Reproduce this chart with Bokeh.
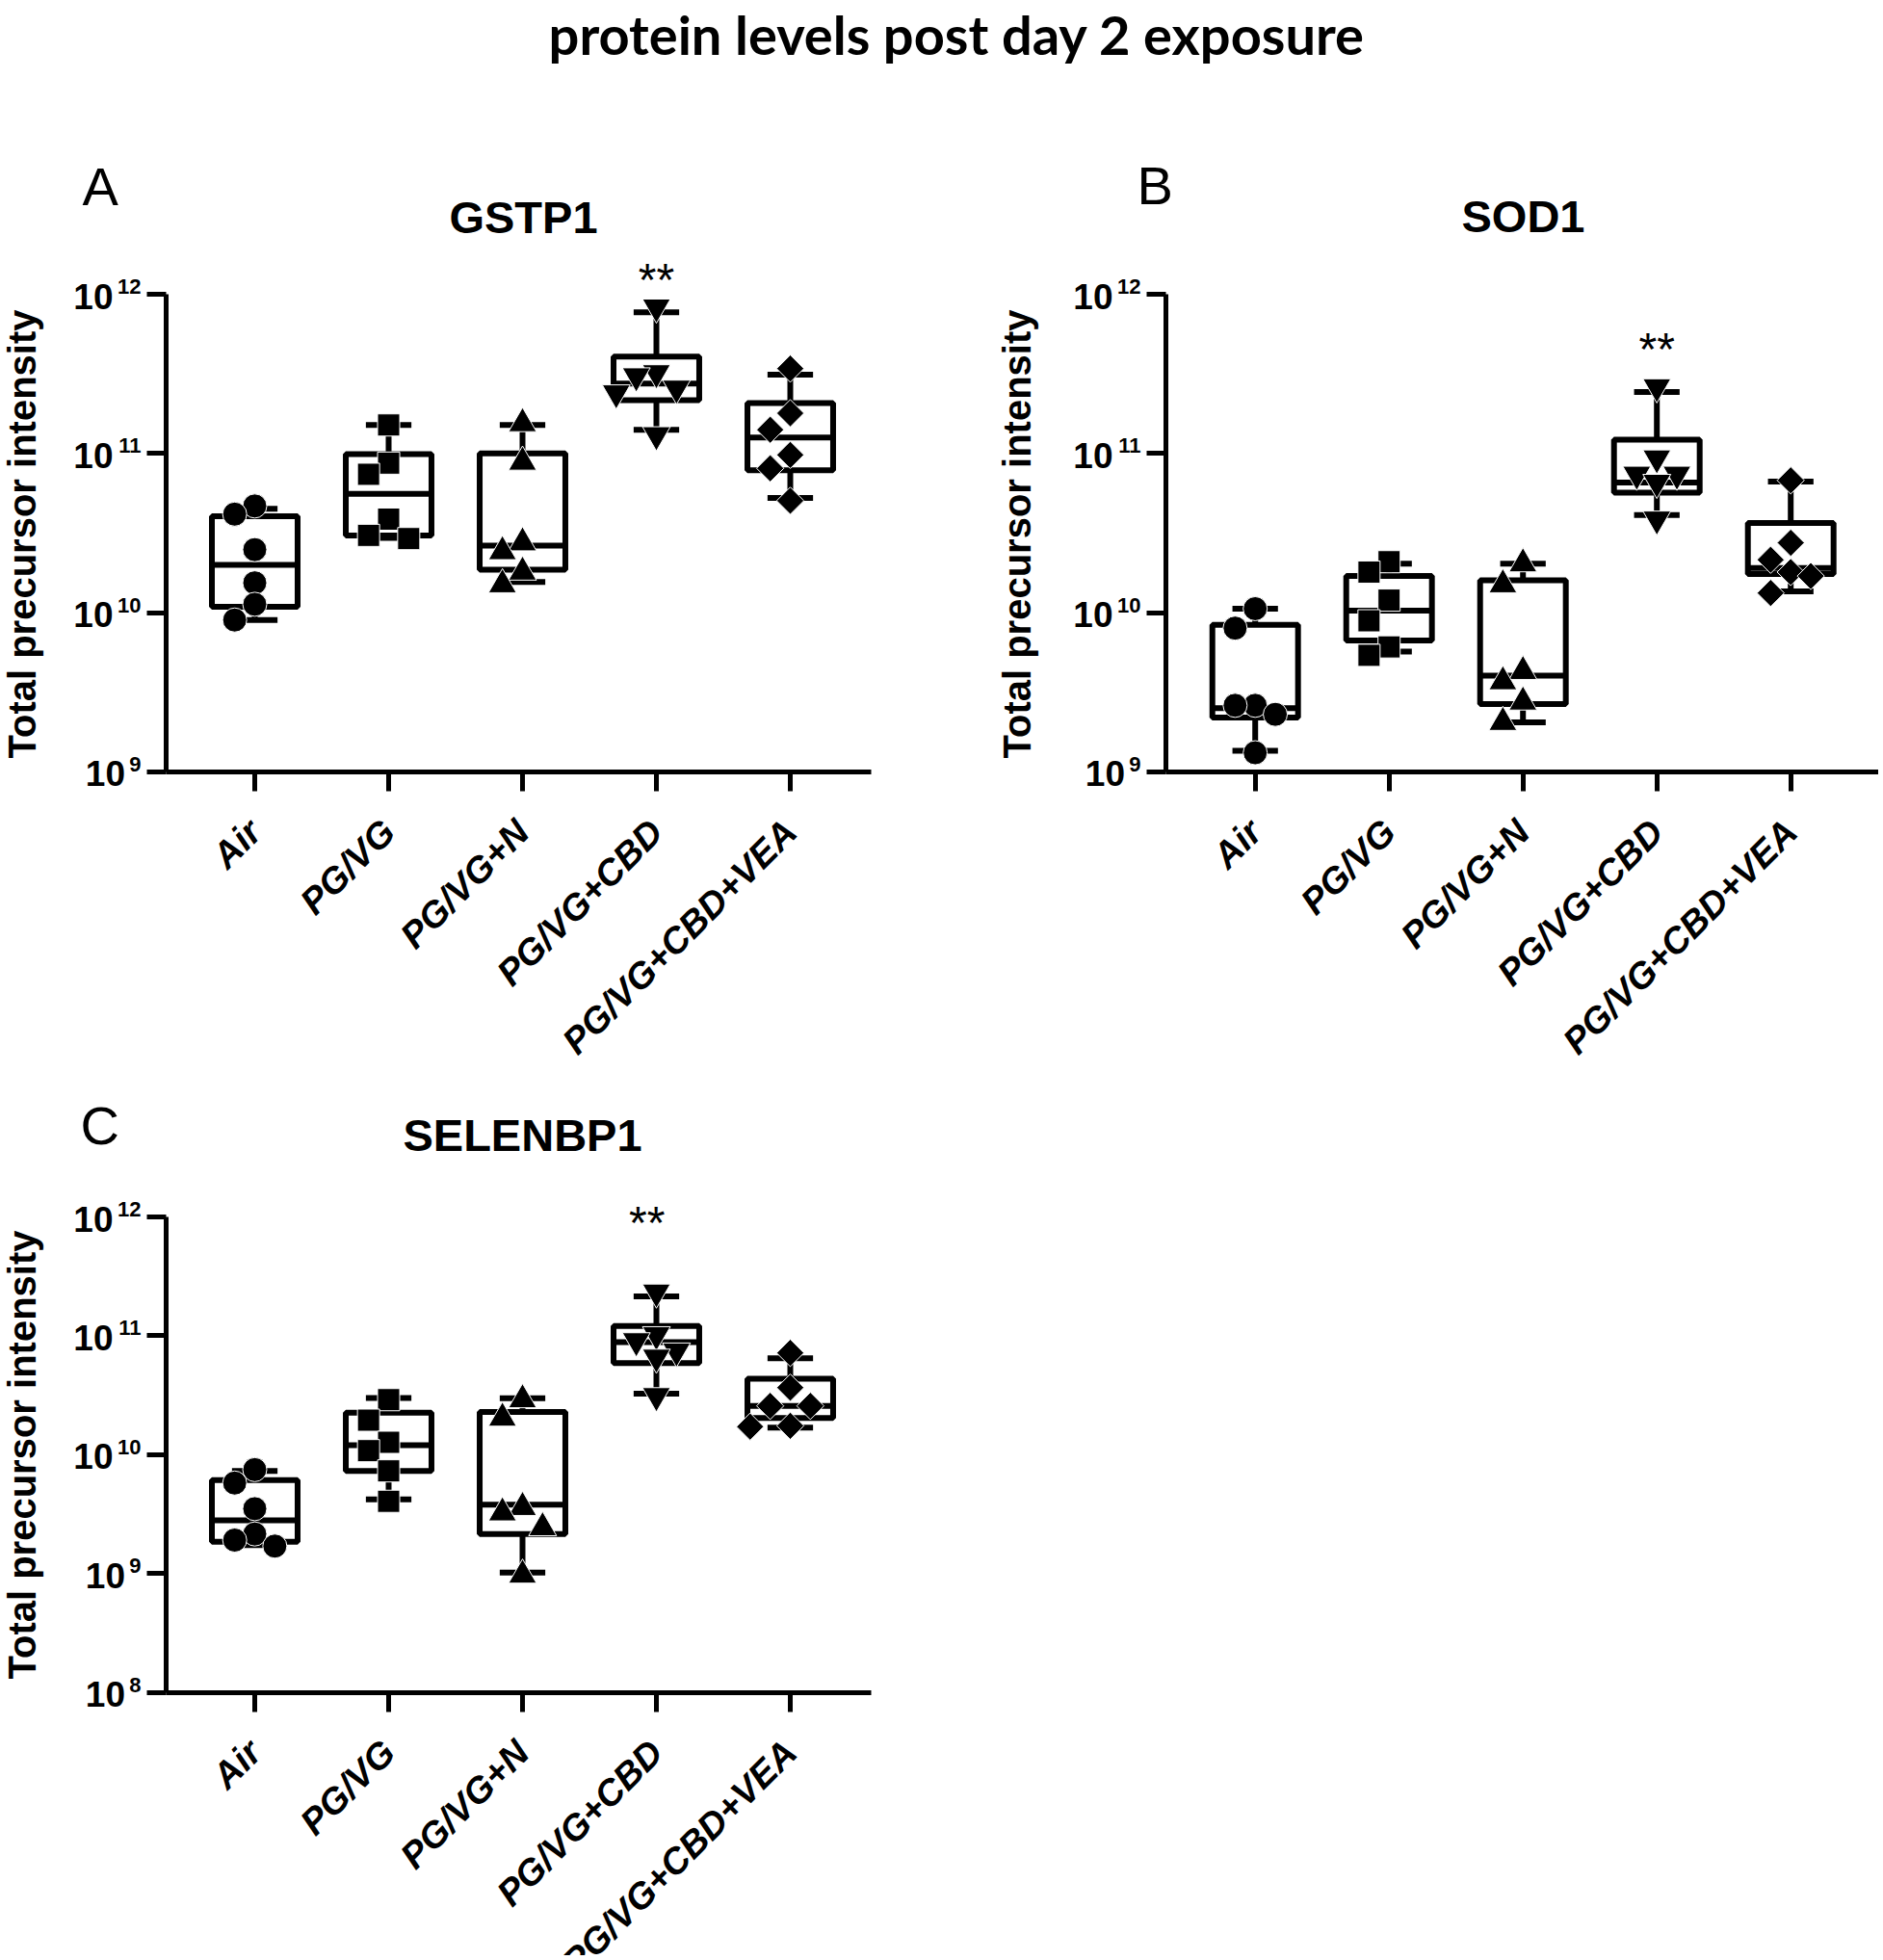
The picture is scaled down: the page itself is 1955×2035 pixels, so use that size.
import math
from bokeh.plotting import figure
from bokeh.layouts import column, row
from bokeh.models import FixedTicker, Label, Range1d
from bokeh.embed import file_html
from bokeh.resources import INLINE

# ---------------- data ----------------
groups = ["Air", "PG/VG", "PG/VG+N", "PG/VG+CBD", "PG/VG+CBD+VEA"]

# Panel A: GSTP1 (individual values)
gstp1_air = [4.68e10, 4.16e10, 2.49e10, 1.54e10, 1.13e10, 9.0e9]
gstp1_pgvg = [1.51e11, 8.7e10, 7.4e10, 3.87e10, 3.06e10, 2.92e10]
gstp1_n = [1.54e11, 8.83e10, 2.75e10, 2.42e10, 1.80e10, 1.50e10]
gstp1_cbd = [8.3e11, 3.21e11, 3.07e11, 2.57e11, 2.40e11, 1.31e11]
gstp1_vea = [3.41e11, 1.79e11, 1.41e11, 9.8e10, 8.07e10, 5.05e10]
# box statistics
gstp1_min = [9.0e9, 2.95e10, 1.56e10, 1.41e11, 5.26e10]
gstp1_q1 = [1.09e10, 3.05e10, 1.86e10, 2.16e11, 7.85e10]
gstp1_med = [2.0e10, 5.58e10, 2.64e10, 2.75e11, 1.26e11]
gstp1_q3 = [4.04e10, 9.9e10, 1.0e11, 4.06e11, 2.07e11]
gstp1_max = [4.5e10, 1.51e11, 1.51e11, 7.7e11, 3.13e11]

# Panel B: SOD1
sod1_air = [1.06e10, 8.0e9, 2.62e9, 2.62e9, 2.3e9, 1.32e9]
sod1_pgvg = [2.09e10, 1.80e10, 1.20e10, 8.9e9, 6.1e9, 5.4e9]
sod1_n = [2.03e10, 1.50e10, 4.28e9, 3.69e9, 2.75e9, 2.05e9]
sod1_cbd = [2.62e11, 9.37e10, 7.4e10, 7.4e10, 6.58e10, 3.87e10]
sod1_vea = [6.78e10, 2.75e10, 2.15e10, 1.80e10, 1.70e10, 1.33e10]
sod1_min = [1.36e9, 5.7e9, 2.05e9, 4.11e10, 1.36e10]
sod1_q1 = [2.2e9, 6.7e9, 2.67e9, 5.68e10, 1.75e10]
sod1_med = [2.52e9, 1.03e10, 4.03e9, 6.58e10, 1.91e10]
sod1_q3 = [8.4e9, 1.70e10, 1.60e10, 1.22e11, 3.66e10]
sod1_max = [1.06e10, 2.03e10, 2.03e10, 2.43e11, 6.66e10]

# Panel C: SELENBP1
selenbp1_air = [7.48e9, 5.77e9, 3.51e9, 2.15e9, 1.91e9, 1.70e9]
selenbp1_pgvg = [2.9e10, 1.95e10, 1.27e10, 1.08e10, 7.3e9, 4.05e9]
selenbp1_n = [2.9e10, 2.03e10, 3.6e9, 3.24e9, 2.43e9, 9.7e8]
selenbp1_cbd = [2.33e11, 1.02e11, 9.07e10, 7.44e10, 6.6e10, 3.13e10]
selenbp1_vea = [7.17e10, 3.66e10, 2.57e10, 2.57e10, 1.75e10, 1.72e10]
selenbp1_min = [1.73e9, 4.2e9, 1.02e9, 3.26e10, 1.69e10]
selenbp1_q1 = [1.85e9, 7.3e9, 2.15e9, 5.88e10, 2.03e10]
selenbp1_med = [2.8e9, 1.2e10, 3.8e9, 8.85e10, 2.57e10]
selenbp1_q3 = [6.1e9, 2.25e10, 2.29e10, 1.21e11, 4.36e10]
selenbp1_max = [7.3e9, 3.0e10, 2.98e10, 2.15e11, 6.46e10]

yticks_ab = [1e9, 1e10, 1e11, 1e12]
yticks_c = [1e8, 1e9, 1e10, 1e11, 1e12]

main_title = "protein levels post day 2 exposure"
y_label = "Total precursor intensity"
sig_label = "**"

# ---------------- style ----------------
FONT = "Liberation Sans"
LW = 6
AXW = 5
marker_kinds = ["circle", "square", "triangle", "inverted_triangle", "square"]
marker_angles = [0, 0, 0, 0, math.pi / 4]
marker_sizes = [25, 23, 29, 29, 20]
BOX_HALF = 0.32
CAP_HALF = 0.17
CAT_PX = 139.0  # pixels between categories


def spread(vals, px_per_dec, step=0.15, gap=22):
    order = sorted(range(len(vals)), key=lambda k: -vals[k])
    placed = []
    offs = [0.0] * len(vals)
    for k in order:
        y = math.log10(vals[k]) * px_per_dec
        chosen = 0
        for c in (0, -1, 1, -2, 2):
            if all(abs(y - py) >= gap or abs(c - pc) >= 1 for py, pc in placed):
                chosen = c
                break
        placed.append((y, chosen))
        offs[k] = chosen * step
    return offs


def make_panel(series, lo, q1, med, q3, hi, yticks,
               canvas, cat0_px, yaxis_px, xend_px, top_tick_px, dec_px):
    """canvas = (left, top, width, height) in page pixels; the frame fills the canvas."""
    cl, ct, cw, ch = canvas
    x0 = (cl - cat0_px) / CAT_PX
    x1 = (cl + cw - cat0_px) / CAT_PX
    top_e = math.log10(yticks[-1])
    y1 = 10 ** (top_e + (top_tick_px - ct) / dec_px)
    y0 = 10 ** (top_e - (ct + ch - top_tick_px) / dec_px)
    x_axis_at = (yaxis_px - cat0_px) / CAT_PX
    x_axis_end = (xend_px - cat0_px) / CAT_PX

    p = figure(width=cw, height=ch, title=None,
               x_range=Range1d(x0, x1), y_range=Range1d(y0, y1),
               y_axis_type="log", output_backend="svg", toolbar_location=None,
               min_border=0)
    p.outline_line_color = None
    p.xgrid.visible = False
    p.ygrid.visible = False

    for ax in (p.xaxis[0], p.yaxis[0]):
        ax.axis_line_width = AXW
        ax.axis_line_color = "black"
        ax.major_tick_line_width = AXW
        ax.major_tick_line_color = "black"
        ax.major_tick_in = 0
        ax.major_tick_out = 20
        ax.minor_tick_line_color = None
        ax.major_label_text_color = None

    xa = p.xaxis[0]
    xa.ticker = FixedTicker(ticks=list(range(len(groups))))
    xa.fixed_location = yticks[0]
    xa.bounds = (x_axis_at, x_axis_end)

    ya = p.yaxis[0]
    ya.ticker = FixedTicker(ticks=yticks)
    ya.fixed_location = x_axis_at
    ya.bounds = (yticks[0], yticks[-1])

    # y tick labels: "10" with a raised exponent
    for t in yticks:
        e = str(int(round(math.log10(t))))
        p.add_layout(Label(x=x_axis_at, y=t, text=e, x_offset=-26, y_offset=8,
                           text_font=FONT, text_font_size="22px", text_font_style="bold",
                           text_align="right", text_baseline="alphabetic", text_color="black"))
        p.add_layout(Label(x=x_axis_at, y=t, text="10", x_offset=-(30 + 12.5 * len(e)),
                           y_offset=-2, text_font=FONT, text_font_size="37px",
                           text_font_style="bold", text_align="right",
                           text_baseline="alphabetic", text_color="black"))
    # x tick labels, rotated 45 degrees
    for i, g in enumerate(groups):
        p.add_layout(Label(x=i, y=yticks[0], text=g, angle=math.pi / 4,
                           x_offset=0, y_offset=-56, text_font=FONT, text_font_size="38px",
                           text_font_style="bold italic", text_align="right",
                           text_baseline="middle", text_color="black"))

    xs = list(range(len(groups)))
    p.quad(left=[x - BOX_HALF for x in xs], right=[x + BOX_HALF for x in xs],
           bottom=q1, top=q3, fill_color=None, line_color="black", line_width=LW)
    p.segment(x0=xs, y0=q3, x1=xs, y1=hi, line_color="black", line_width=LW)
    p.segment(x0=xs, y0=lo, x1=xs, y1=q1, line_color="black", line_width=LW)
    p.segment(x0=[x - BOX_HALF for x in xs], y0=med, x1=[x + BOX_HALF for x in xs], y1=med,
              line_color="black", line_width=LW)
    p.segment(x0=[x - CAP_HALF for x in xs], y0=hi, x1=[x + CAP_HALF for x in xs], y1=hi,
              line_color="black", line_width=LW)
    p.segment(x0=[x - CAP_HALF for x in xs], y0=lo, x1=[x + CAP_HALF for x in xs], y1=lo,
              line_color="black", line_width=LW)

    for i, vals in enumerate(series):
        offs = spread(vals, dec_px)
        p.scatter(x=[i + o for o in offs], y=vals, marker=marker_kinds[i],
                  size=marker_sizes[i], angle=marker_angles[i],
                  fill_color="black", line_color="white", line_width=1)
    return p


def add_texts(p, canvas, letter, letter_xy, name, name_xy, sig_x, sig_y, ylab_xy):
    cl, ct, cw, ch = canvas
    cb = ct + ch

    def sx(px):
        return px - cl

    def sy(py):
        return cb - py

    p.add_layout(Label(x=sx(letter_xy[0]), y=sy(letter_xy[1]), x_units="screen", y_units="screen",
                       text=letter, text_font=FONT, text_font_size="56px",
                       text_align="left", text_baseline="alphabetic", text_color="black"))
    p.add_layout(Label(x=sx(name_xy[0]), y=sy(name_xy[1]), x_units="screen", y_units="screen",
                       text=name, text_font=FONT, text_font_size="47px", text_font_style="bold",
                       text_align="center", text_baseline="alphabetic", text_color="black"))
    p.add_layout(Label(x=sig_x, y=sy(sig_y), x_units="data", y_units="screen",
                       text=sig_label, text_font=FONT, text_font_size="48px",
                       text_align="center", text_baseline="alphabetic", text_color="black"))
    p.add_layout(Label(x=sx(ylab_xy[0]), y=sy(ylab_xy[1]), x_units="screen", y_units="screen",
                       text=y_label, text_font=FONT, text_font_size="40px", text_font_style="bold",
                       angle=math.pi / 2, text_align="center", text_baseline="alphabetic",
                       text_color="black"))


# ---------------- title ----------------
tfig = figure(width=1950, height=98, title=None, x_range=Range1d(0, 1950), y_range=Range1d(0, 98),
              output_backend="svg", toolbar_location=None, min_border=0,
              x_axis_location=None, y_axis_location=None)
tfig.outline_line_color = None
tfig.grid.visible = False
tfig.xgrid.visible = False
tfig.ygrid.visible = False
tfig.add_layout(Label(x=993, y=98 - 35, text=main_title, text_font="Lato", text_font_size="56px",
                      text_font_style="bold", text_align="center", text_baseline="alphabetic",
                      text_color="black"))

# ---------------- panels ----------------
canvas_a = (0, 98, 1008, 1012)
pa = make_panel([gstp1_air, gstp1_pgvg, gstp1_n, gstp1_cbd, gstp1_vea],
                gstp1_min, gstp1_q1, gstp1_med, gstp1_q3, gstp1_max, yticks_ab,
                canvas_a, 264.0, 172.0, 904.0, 305.0, 165.33)
add_texts(pa, canvas_a, "A", (85, 193), "GSTP1", (543, 225), 3, 290, (22, 554))

canvas_b = (1008, 98, 942, 1012)
pb = make_panel([sod1_air, sod1_pgvg, sod1_n, sod1_cbd, sod1_vea],
                sod1_min, sod1_q1, sod1_med, sod1_q3, sod1_max, yticks_ab,
                canvas_b, 1302.7, 1210.0, 1950.0, 305.0, 165.33)
add_texts(pb, canvas_b, "B", (1180, 192), "SOD1", (1581, 224), 3, 362, (1055, 554))

canvas_c = (0, 1110, 1008, 920)
pc = make_panel([selenbp1_air, selenbp1_pgvg, selenbp1_n, selenbp1_cbd, selenbp1_vea],
                selenbp1_min, selenbp1_q1, selenbp1_med, selenbp1_q3, selenbp1_max, yticks_c,
                canvas_c, 264.0, 172.0, 904.0, 1263.0, 123.4)
add_texts(pc, canvas_c, "C", (83, 1168), "SELENBP1", (542, 1178), 2.93, 1269, (22, 1510))

layout = column(tfig, row(pa, pb), pc)

with open("out.html", "w", encoding="utf-8") as f:
    f.write(file_html(layout, INLINE))
